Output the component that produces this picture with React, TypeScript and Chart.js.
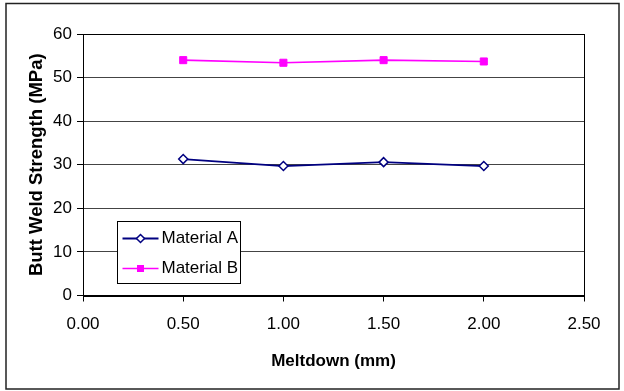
import React, { useEffect, useRef } from "react";
import { Chart, registerables } from "chart.js";

Chart.register(...registerables);

const meltdown = [0.5, 1.0, 1.5, 2.0];
const materialA = [31.3, 29.7, 30.6, 29.7];
const materialB = [54.0, 53.4, 54.0, 53.7];
const seriesLabels = ["Material A", "Material B"];
const xTitle = "Meltdown (mm)";
const yTitle = "Butt Weld Strength (MPa)";

const FONT = "'Liberation Sans', Arial, sans-serif";

const framePlugin = {
  id: "frame",
  beforeDraw(chart: any) {
    const ctx = chart.ctx;
    ctx.save();
    ctx.fillStyle = "#fff";
    ctx.fillRect(0, 0, chart.width, chart.height);
    ctx.restore();
  },
  afterDraw(chart: any) {
    const ctx = chart.ctx;
    const a = chart.chartArea;
    ctx.save();
    // plot area frame
    ctx.strokeStyle = "#000";
    ctx.lineWidth = 1;
    ctx.strokeRect(Math.round(a.left) + 0.5, Math.round(a.top) + 0.5, Math.round(a.right - a.left), Math.round(a.bottom - a.top));
    // outer border
    ctx.strokeStyle = "#222";
    ctx.lineWidth = 1.5;
    ctx.strokeRect(6, 3.5, chart.width - 11, chart.height - 5.5);

    // legend inside plot
    const bx = Math.round(a.left + 34) + 0.5;
    const by = Math.round(a.bottom - 75) + 0.5;
    const bw = 123;
    const bh = 62;
    ctx.fillStyle = "#fff";
    ctx.fillRect(bx, by, bw, bh);
    ctx.strokeStyle = "#000";
    ctx.lineWidth = 1;
    ctx.strokeRect(bx, by, bw, bh);
    const dsets = chart.data.datasets;
    dsets.forEach((ds: any, i: number) => {
      const cy = by + 17 + i * 30;
      ctx.strokeStyle = ds.borderColor;
      ctx.lineWidth = ds.borderWidth;
      ctx.beginPath();
      ctx.moveTo(bx + 5, cy);
      ctx.lineTo(bx + 41, cy);
      ctx.stroke();
      const mx = bx + 23;
      if (ds.pointStyle === "rectRot") {
        ctx.fillStyle = ds.pointBackgroundColor;
        ctx.strokeStyle = ds.pointBorderColor;
        ctx.lineWidth = ds.pointBorderWidth;
        ctx.beginPath();
        ctx.moveTo(mx, cy - 4);
        ctx.lineTo(mx + 4, cy);
        ctx.lineTo(mx, cy + 4);
        ctx.lineTo(mx - 4, cy);
        ctx.closePath();
        ctx.fill();
        ctx.stroke();
      } else {
        ctx.fillStyle = ds.pointBackgroundColor;
        ctx.fillRect(mx - 3.5, cy - 3.5, 7, 7);
      }
      ctx.fillStyle = "#000";
      ctx.font = `17px ${FONT}`;
      ctx.textBaseline = "middle";
      ctx.textAlign = "left";
      ctx.fillText(ds.label, bx + 44, cy);
    });
    ctx.restore();
  },
};

export default function App() {
  const ref = useRef<HTMLCanvasElement | null>(null);

  useEffect(() => {
    document.body.style.margin = "0";
    const canvas = ref.current!;
    const chart = new Chart(canvas, {
      type: "line",
      data: {
        datasets: [
          {
            label: seriesLabels[0],
            data: meltdown.map((x, i) => ({ x, y: materialA[i] })),
            borderColor: "#000080",
            borderWidth: 1.8,
            pointStyle: "rectRot",
            pointRadius: 4.5,
            pointBackgroundColor: "#fff",
            pointBorderColor: "#000080",
            pointBorderWidth: 1.5,
            tension: 0,
          },
          {
            label: seriesLabels[1],
            data: meltdown.map((x, i) => ({ x, y: materialB[i] })),
            borderColor: "#FF00FF",
            borderWidth: 1.6,
            pointStyle: "rect",
            pointRadius: 5,
            pointBackgroundColor: "#FF00FF",
            pointBorderColor: "#FF00FF",
            pointBorderWidth: 1,
            tension: 0,
          },
        ],
      },
      options: {
        responsive: false,
        animation: false,
        layout: { padding: { left: 26, right: 40, top: 34, bottom: 19 } },
        plugins: {
          legend: { display: false },
          tooltip: { enabled: false },
        },
        scales: {
          x: {
            type: "linear",
            min: 0,
            max: 2.5,
            afterFit(scale: any) {
              scale.height = 391 - 19 - 295.5;
            },
            ticks: {
              stepSize: 0.5,
              color: "#000",
              font: { family: FONT, size: 17 },
              padding: 13,
              maxRotation: 0,
              callback: (v: any) => Number(v).toFixed(2),
            },
            grid: {
              drawOnChartArea: false,
              drawTicks: true,
              tickLength: 6,
              color: "#000",
            },
            border: { display: true, color: "#000", width: 1 },
            title: {
              display: true,
              text: xTitle,
              color: "#000",
              font: { family: FONT, size: 17, weight: "bold" },
              padding: { top: 0, bottom: 0 },
            },
          },
          y: {
            min: 0,
            max: 60,
            afterFit(scale: any) {
              scale.width = 83 - 26;
            },
            ticks: {
              stepSize: 10,
              color: "#000",
              font: { family: FONT, size: 17 },
              padding: 5,
            },
            grid: {
              color: "#444",
              lineWidth: 1,
              tickLength: 6,
              tickColor: "#000",
            },
            border: { display: true, color: "#000", width: 1 },
            title: {
              display: true,
              text: yTitle,
              color: "#000",
              font: { family: FONT, size: 18.5, weight: "bold" },
              padding: { top: 0, bottom: 0 },
            },
          },
        },
      },
      plugins: [framePlugin],
    } as any);
    return () => chart.destroy();
  }, []);

  return (
    <div style={{ width: 624, height: 391, position: "relative" }}>
      <canvas ref={ref} width={624} height={391} style={{ display: "block" }} />
    </div>
  );
}
